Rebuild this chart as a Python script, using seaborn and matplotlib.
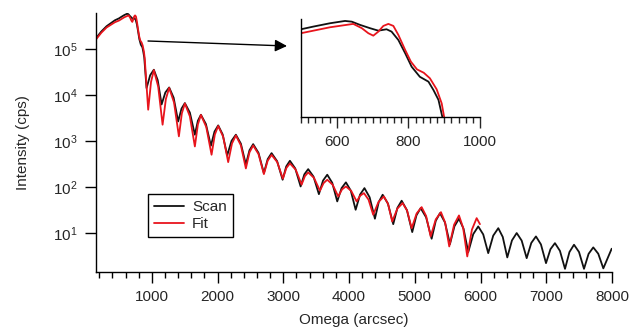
import numpy as np
import pandas as pd
import matplotlib
matplotlib.use("Agg")
import matplotlib.pyplot as plt
from matplotlib.ticker import MultipleLocator, NullLocator, FixedLocator
import seaborn as sns

scan_omega = [150, 230, 311, 437, 500, 534, 581, 623, 642, 665, 693, 716, 739, 753,
              772, 791, 809, 832, 856, 870, 884, 895, 919, 974, 1030, 1089, 1148,
              1205, 1263, 1331, 1400, 1451, 1502, 1578, 1654, 1700, 1746, 1822, 1898,
              1953, 2009, 2077, 2146, 2212, 2278, 2354, 2430, 2485, 2541, 2622, 2704,
              2762, 2821, 2905, 2989, 3044, 3100, 3181, 3263, 3320, 3378, 3459, 3541,
              3604, 3668, 3744, 3820, 3886, 3952, 4026, 4100, 4167, 4234, 4313, 4393,
              4452, 4511, 4591, 4672, 4736, 4800, 4880, 4961, 5025, 5089, 5172, 5256,
              5319, 5383, 5459, 5535, 5603, 5672, 5742, 5813, 5889, 5965, 6041, 6117,
              6193, 6270, 6338, 6407, 6478, 6550, 6626, 6702, 6772, 6843, 6919, 6996,
              7064, 7132, 7208, 7285, 7353, 7422, 7498, 7574, 7644, 7715, 7791, 7868,
              7995]
scan_cps = [1.75e5, 2.45e5, 3.2e5, 4.3e5, 4.74e5, 5.10e5, 5.60e5, 5.97e5, 5.85e5,
            5.35e5, 4.88e5, 4.56e5, 4.74e5, 4.44e5, 3.52e5, 2.44e5, 1.68e5, 1.27e5,
            1.11e5, 8.8e4, 6.7e4, 4.14e4, 1.44e4, 2.75e4, 3.62e4, 2.15e4, 6.37e3,
            1.16e4, 1.49e4, 8.95e3, 2.72e3, 5.18e3, 6.81e3, 4.24e3, 1.40e3, 2.82e3,
            3.80e3, 2.39e3, 807, 1.64e3, 2.23e3, 1.42e3, 497, 1.03e3, 1.40e3, 895,
            316, 644, 873, 565, 205, 413, 557, 373, 147, 286, 380, 259, 105, 193, 250,
            172, 71.4, 141, 189, 126, 49.7, 96.6, 129, 85.3, 32.7, 69.8, 96.6, 61.0,
            20.9, 48.4, 69.3, 44.6, 15.9, 36.1, 51.4, 32.1, 10.7, 24.7, 35.5, 22.4,
            7.67, 18.8, 27.6, 17.3, 5.85, 14.3, 20.9, 12.6, 3.92, 9.64, 14.2, 9.51,
            3.73, 8.95, 13.0, 8.39, 3.01, 7.05, 10.2, 6.98, 2.90, 6.21, 8.61, 5.77,
            2.26, 4.55, 6.15, 4.18, 1.70, 3.95, 5.68, 3.95, 1.70, 3.60, 4.97, 3.62,
            1.74, 4.65]

# Fit curve
fit_omega = [150, 230, 311, 437, 500, 581, 646, 670, 688, 702, 716, 730, 744, 758,
             772, 791, 807, 824, 843, 860, 879, 893, 900, 944, 987, 1030, 1096, 1163,
             1213, 1263, 1337, 1411, 1456, 1502, 1578, 1654, 1700, 1746, 1827, 1908,
             1958, 2009, 2085, 2161, 2219, 2278, 2354, 2430, 2485, 2541, 2622, 2704,
             2762, 2821, 2907, 2993, 3046, 3100, 3189, 3278, 3328, 3378, 3467, 3557,
             3612, 3668, 3751, 3835, 3893, 3952, 4033, 4115, 4170, 4226, 4296, 4367,
             4448, 4530, 4593, 4656, 4735, 4815, 4883, 4952, 5028, 5104, 5172, 5241,
             5319, 5398, 5461, 5524, 5598, 5672, 5735, 5798, 5869, 5941, 5991]
fit_cps = [1.65e5, 2.3e5, 3.0e5, 3.9e5, 4.25e5, 5.01e5, 5.50e5, 4.88e5, 4.25e5,
           3.97e5, 4.44e5, 5.20e5, 5.50e5, 5.20e5, 4.05e5, 2.67e5, 1.93e5, 1.56e5,
           1.42e5, 1.22e5, 8.97e4, 6.08e4, 4.13e4, 4.89e3, 1.96e4, 3.55e4, 1.56e4,
           2.31e3, 8.37e3, 1.46e4, 7.03e3, 1.29e3, 4.08e3, 6.70e3, 3.51e3, 778,
           2.34e3, 3.77e3, 2.07e3, 514, 1.41e3, 2.17e3, 1.26e3, 355, 904, 1.35e3, 822,
           259, 579, 818, 532, 195, 382, 509, 356, 155, 264, 333, 242, 115, 176, 212,
           161, 84.7, 124, 147, 114, 63.7, 90.6, 105, 83.9, 49.7, 66.4, 75.2, 54.3,
           25.5, 48.4, 63.7, 43.8, 18.2, 34.7, 45.6, 31.3, 13.0, 27.2, 37.3, 24.0,
           8.61, 20.2, 29.0, 17.3, 5.21, 15.5, 24.6, 13.3, 3.16, 12.1, 21.5, 15.9]

series_labels = ["Scan", "Fit"]
series_colors = ["#111111", "#e8141c"]

x_major = [1000, 2000, 3000, 4000, 5000, 6000, 7000, 8000]
y_major = [1e1, 1e2, 1e3, 1e4, 1e5]
inset_major = [600, 800, 1000]

sns.set_style("ticks")
plt.rcParams["font.family"] = ["Liberation Sans", "DejaVu Sans"]
plt.rcParams["mathtext.fontset"] = "custom"
plt.rcParams["mathtext.rm"] = "Liberation Sans"
plt.rcParams["mathtext.it"] = "Liberation Sans"

scan = pd.DataFrame({"omega": scan_omega, "cps": scan_cps})
fit = pd.DataFrame({"omega": fit_omega, "cps": fit_cps})

fig = plt.figure(figsize=(6.31, 3.29), dpi=100)
ax = fig.add_axes([96 / 631, 1 - 272 / 329, 516 / 631, 259 / 329])

for df, lab, col in zip([scan, fit], series_labels, series_colors):
    sns.lineplot(data=df, x="omega", y="cps", ax=ax, color=col, lw=1.3,
                 label=lab, estimator=None, sort=False)

ax.set_yscale("log")
ax.set_xlim(150, 8000)
ax.set_ylim(1.45, 6.2e5)
ax.xaxis.set_major_locator(FixedLocator(x_major))
ax.xaxis.set_minor_locator(MultipleLocator(200))
ax.yaxis.set_major_locator(FixedLocator(y_major))
ax.yaxis.set_minor_locator(NullLocator())
ax.tick_params(axis="both", which="major", length=8, width=1, color="black",
               labelsize=11, pad=5.5)
ax.tick_params(axis="x", which="minor", length=4, width=1, color="black")
ax.tick_params(axis="x", which="major", pad=5)
for side in ["top", "right"]:
    ax.spines[side].set_visible(False)
for side in ["left", "bottom"]:
    ax.spines[side].set_linewidth(1)
    ax.spines[side].set_color("black")
ax.set_xlabel("Omega (arcsec)", fontsize=11, labelpad=6.5)
ax.set_ylabel("Intensity (cps)", fontsize=11, labelpad=16)

leg = ax.legend(loc="lower left", bbox_to_anchor=(0.1, 0.134), borderaxespad=0,
                fontsize=11, frameon=True, fancybox=False, handlelength=2.0,
                borderpad=0.4, labelspacing=0.2, handletextpad=0.5)
leg.get_frame().set_edgecolor("black")
leg.get_frame().set_linewidth(1)
leg.get_frame().set_alpha(1)

# arrow pointing to the inset
ax.annotate("", xy=(287 / 631, 1 - 46 / 329), xytext=(148 / 631, 1 - 41 / 329),
            xycoords="figure fraction", textcoords="figure fraction",
            arrowprops=dict(arrowstyle="-|>", color="black", lw=1,
                            mutation_scale=18, shrinkA=0, shrinkB=0))

# inset zoom on the critical angle region
ins = fig.add_axes([301 / 631, 1 - 117 / 329, 179 / 631, 98 / 329])
for df, col in zip([scan, fit], series_colors):
    sns.lineplot(data=df, x="omega", y="cps", ax=ins, color=col, lw=1.3,
                 estimator=None, sort=False)
ins.set_yscale("log")
ins.set_xlim(500, 1000)
ins.set_ylim(4.17e4, 6.3e5)
ins.xaxis.set_major_locator(FixedLocator(inset_major))
ins.xaxis.set_minor_locator(MultipleLocator(20))
ins.yaxis.set_major_locator(NullLocator())
ins.yaxis.set_minor_locator(NullLocator())
ins.tick_params(axis="x", which="major", length=8, width=1, labelsize=11, pad=5)
ins.tick_params(axis="x", which="minor", length=4, width=1)
for side in ["top", "right"]:
    ins.spines[side].set_visible(False)
for side in ["left", "bottom"]:
    ins.spines[side].set_linewidth(1)
    ins.spines[side].set_color("black")
ins.set_xlabel("")
ins.set_ylabel("")

fig.savefig("out.png", dpi=100)
